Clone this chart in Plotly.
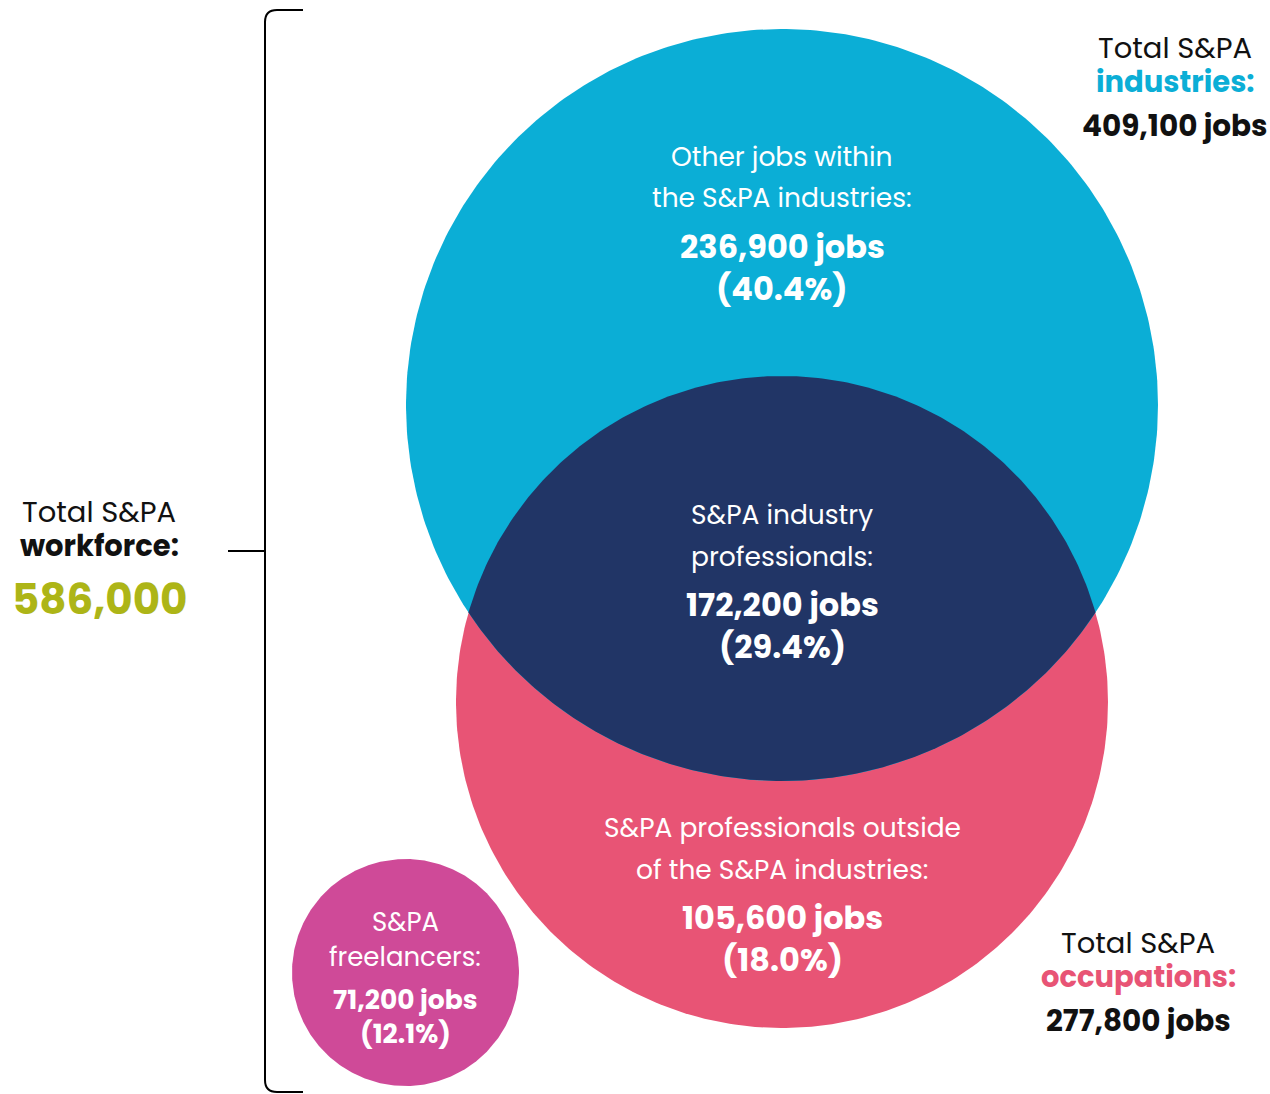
import numpy as np
import plotly.graph_objects as go

# ---------------- data ----------------
region_names = ["industries_other", "intersection", "occupations_other", "freelancers"]
region_desc = [
    ["Other jobs within", "the S&PA industries:"],
    ["S&PA industry", "professionals:"],
    ["S&PA professionals outside", "of the S&PA industries:"],
    ["S&PA", "freelancers:"],
]
region_jobs = [236900, 172200, 105600, 71200]
region_pct = [40.4, 29.4, 18.0, 12.1]

total_labels = ["industries:", "occupations:", "workforce:"]
total_values = [409100, 277800, 586000]

# ---------------- layout / style (not data) ----------------
W, H = 1270, 1094
FONT = "Poppins, 'Open Sans', Lato, sans-serif"
C_BLUE = "#0BAED6"
C_NAVY = "#213566"
C_PINK = "#E85475"
C_PURPLE = "#CF4A98"
C_OLIVE = "#ADB517"

circ_ind = dict(cx=782, cy=405, r=376)
circ_occ = dict(cx=782, cy=702, r=326)
circ_free = dict(cx=405.5, cy=972.5, r=113.5)

fig = go.Figure()


def circle_pts(c, n=400):
    t = np.linspace(0, 2 * np.pi, n)
    return c["cx"] + c["r"] * np.cos(t), c["cy"] + c["r"] * np.sin(t)


for c, col in [(circ_occ, C_PINK), (circ_ind, C_BLUE), (circ_free, C_PURPLE)]:
    x, y = circle_pts(c)
    fig.add_trace(go.Scatter(x=x, y=y, fill="toself", fillcolor=col, mode="lines",
                             line=dict(width=0, color=col), hoverinfo="skip", showlegend=False))

# lens (intersection of industries and occupations circles)
a, b = circ_ind, circ_occ
d = b["cy"] - a["cy"]
yi = (d ** 2 + a["r"] ** 2 - b["r"] ** 2) / (2 * d)
yint = a["cy"] + yi
hx = np.sqrt(a["r"] ** 2 - yi ** 2)
ang_a0 = np.arctan2(yint - a["cy"], hx)
ang_a1 = np.arctan2(yint - a["cy"], -hx)
ta = np.linspace(ang_a0, ang_a1, 200)
xa = a["cx"] + a["r"] * np.cos(ta)
ya = a["cy"] + a["r"] * np.sin(ta)
ang_b0 = np.arctan2(yint - b["cy"], -hx)
ang_b1 = np.arctan2(yint - b["cy"], hx)
if ang_b1 < ang_b0:
    ang_b1 += 2 * np.pi
tb = np.linspace(ang_b0, ang_b1, 200)
xb = b["cx"] + b["r"] * np.cos(tb)
yb = b["cy"] + b["r"] * np.sin(tb)
fig.add_trace(go.Scatter(x=np.concatenate([xa, xb]), y=np.concatenate([ya, yb]),
                         fill="toself", fillcolor=C_NAVY, mode="lines",
                         line=dict(width=0, color=C_NAVY), hoverinfo="skip", showlegend=False))

# bracket
bx, btop, bbot, bend, rr = 265, 10, 1092, 303, 12
fig.add_shape(type="path",
              path=f"M {bend},{btop} L {bx+rr},{btop} Q {bx},{btop} {bx},{btop+rr} "
                   f"L {bx},{bbot-rr} Q {bx},{bbot} {bx+rr},{bbot} L {bend},{bbot}",
              line=dict(color="black", width=2))
fig.add_shape(type="line", x0=228, x1=bx, y0=551, y1=551, line=dict(color="black", width=2))

annots = []


def txt(x, y, s, size, color, bold=False):
    if bold:
        s = f"<b>{s}</b>"
    annots.append(dict(x=x, y=y, text=s, showarrow=False, xanchor="center", yanchor="middle",
                       font=dict(family=FONT, size=size, color=color)))


region_pos = [
    dict(x=782, ys=[156, 197, 246, 288], s=26.5, sb=32),
    dict(x=782, ys=[514, 556, 604, 646], s=26.5, sb=32),
    dict(x=782, ys=[827, 869, 917, 959], s=26.5, sb=32),
    dict(x=405, ys=[922, 957, 999, 1033], s=26, sb=26.5),
]
for desc, jobs, pct, p in zip(region_desc, region_jobs, region_pct, region_pos):
    txt(p["x"], p["ys"][0], desc[0], p["s"], "white")
    txt(p["x"], p["ys"][1], desc[1], p["s"], "white")
    txt(p["x"], p["ys"][2], f"{jobs:,} jobs", p["sb"], "white", True)
    txt(p["x"], p["ys"][3], f"({pct:.1f}%)", p["sb"], "white", True)

txt(1175, 48, "Total S&PA", 29, "#111111")
txt(1175, 82, total_labels[0], 29, C_BLUE, True)
txt(1175, 125, f"{total_values[0]:,} jobs", 29.5, "#111111", True)

txt(1138, 943, "Total S&PA", 29, "#111111")
txt(1138, 977, total_labels[1], 29, C_PINK, True)
txt(1138, 1020, f"{total_values[1]:,} jobs", 29.5, "#111111", True)

txt(99, 512, "Total S&PA", 29, "#111111")
txt(99, 546, total_labels[2], 29, "#111111", True)
txt(99, 599, f"{total_values[2]:,}", 42, C_OLIVE, True)

fig.update_layout(
    width=W, height=H, margin=dict(l=0, r=0, t=0, b=0),
    paper_bgcolor="white", plot_bgcolor="white",
    xaxis=dict(range=[0, W], visible=False, fixedrange=True),
    yaxis=dict(range=[H, 0], visible=False, fixedrange=True),
    annotations=annots, showlegend=False,
)
fig.write_html("out.html", config={"displayModeBar": False},
               post_script="document.body.style.margin='0';document.body.style.overflow='hidden';")
